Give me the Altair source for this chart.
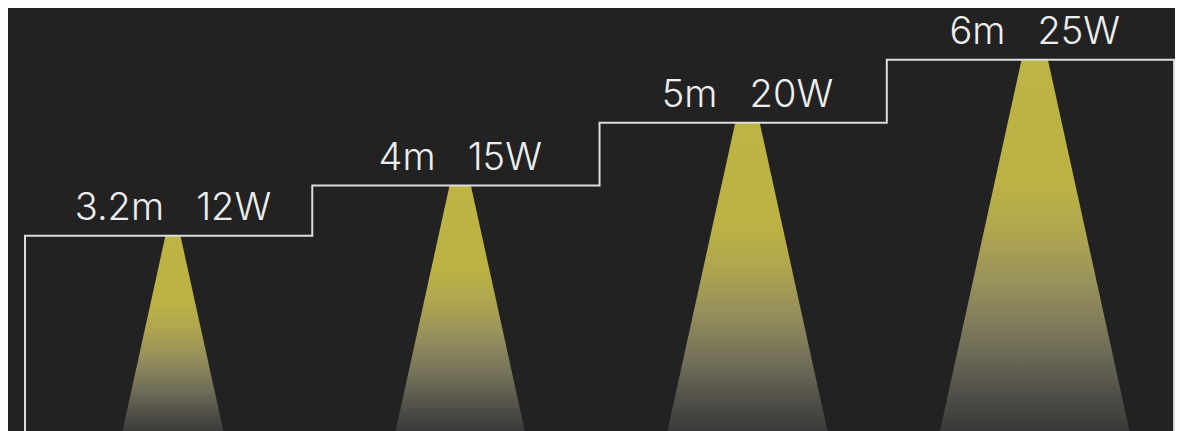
import altair as alt
import pandas as pd

# ---- data ----
heights = [3.2, 4.0, 5.0, 6.0]          # mounting height, m
watts = [12, 15, 20, 25]                # power, W
lens_width = [0.24, 0.34, 0.39, 0.42]   # width of the light exit, m
room_width = 4.575                      # width of each step, m
beam_tan = 0.22                         # tan of half beam angle
center_frac = 0.515                     # cone position inside each step

# ---- build tables ----
line_rows = []
order = 0
line_rows.append({"x": 0.0, "y": 0.0, "o": order}); order += 1
for i, h in enumerate(heights):
    line_rows.append({"x": i * room_width, "y": h, "o": order}); order += 1
    line_rows.append({"x": (i + 1) * room_width, "y": h, "o": order}); order += 1
line_rows.append({"x": len(heights) * room_width, "y": 0.0, "o": order})
line_df = pd.DataFrame(line_rows)

cone_rows = []
label_rows = []
for i, (h, w, lw) in enumerate(zip(heights, watts, lens_width)):
    cx = (i + center_frac) * room_width
    cone_rows.append({"cone": i, "y": h, "x": cx - lw / 2, "x2": cx + lw / 2})
    spread = lw / 2 + beam_tan * h
    cone_rows.append({"cone": i, "y": 0.0, "x": cx - spread, "x2": cx + spread})
    label_rows.append({"cx": cx, "h": h,
                       "label": f"{h:g}m\u00a0\u00a0\u00a0{w}W"})
cone_df = pd.DataFrame(cone_rows)
label_df = pd.DataFrame(label_rows)

xscale = alt.Scale(domain=[-0.2707, 18.315], nice=False, zero=False)
yscale = alt.Scale(domain=[0.095, 6.825], nice=False, zero=False)

gradient = alt.Gradient(
    gradient="linear", x1=0, y1=0, x2=0, y2=1,
    stops=[
        alt.GradientStop(offset=0.0, color="#BDB443"),
        alt.GradientStop(offset=0.33, color="#BCB245"),
        alt.GradientStop(offset=0.45, color="#B1A74E"),
        alt.GradientStop(offset=0.6, color="#96905C"),
        alt.GradientStop(offset=0.75, color="#74715A"),
        alt.GradientStop(offset=0.9, color="#4c4b46"),
        alt.GradientStop(offset=1.0, color="#363636"),
    ],
)

cones = alt.Chart(cone_df).mark_area(
    orient="horizontal", color=gradient, clip=True
).encode(
    y=alt.Y("y:Q", scale=yscale, axis=None),
    x=alt.X("x:Q", scale=xscale, axis=None),
    x2="x2:Q",
    detail="cone:N",
)

steps = alt.Chart(line_df).mark_line(
    color="#dddddd", strokeWidth=2, clip=True, strokeCap="square"
).encode(
    x=alt.X("x:Q", scale=xscale, axis=None),
    y=alt.Y("y:Q", scale=yscale, axis=None),
    order="o:Q",
)

labels = alt.Chart(label_df).mark_text(
    font="Inter", fontSize=38, fontWeight=300, color="#eeeeee",
    align="center", baseline="alphabetic", dy=-16,
).encode(
    x=alt.X("cx:Q", scale=xscale, axis=None),
    y=alt.Y("h:Q", scale=yscale, axis=None),
    text="label:N",
)

chart = alt.layer(cones, steps, labels).properties(
    width=1167, height=423, background="#222222", padding=0
).configure_view(stroke=None)

chart.save("out.html", embed_options={"renderer": "svg", "actions": False})
